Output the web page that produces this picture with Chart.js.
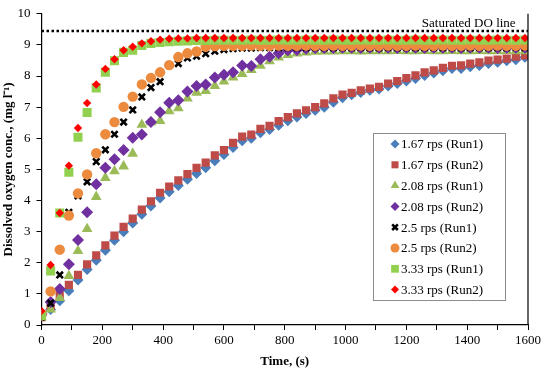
<!DOCTYPE html>
<html>
<head>
<meta charset="utf-8">
<script src="https://cdn.jsdelivr.net/npm/chart.js@4.4.1/dist/chart.umd.min.js"></script>
<style>
  html, body { margin: 0; padding: 0; background: #fff; }
</style>
</head>
<body>
<canvas id="doChart" width="546" height="370"></canvas>
<script>
// sampling times, s
const times = [0, 30, 60, 90, 120, 150, 180, 210, 240, 270,
  300, 330, 360, 390, 420, 450, 480, 510, 540, 570,
  600, 630, 660, 690, 720, 750, 780, 810, 840, 870,
  900, 930, 960, 990, 1020, 1050, 1080, 1110, 1140, 1170,
  1200, 1230, 1260, 1290, 1320, 1350, 1380, 1410, 1440, 1470,
  1500, 1530, 1560, 1590];

// dissolved oxygen, mg/l
const rps167Run1 = [0.30, 0.50, 0.78, 1.10, 1.45, 1.78, 2.08, 2.40, 2.72, 3.00,
  3.28, 3.56, 3.82, 4.08, 4.28, 4.48, 4.68, 4.87, 5.05, 5.28,
  5.48, 5.70, 5.92, 6.00, 6.18, 6.28, 6.42, 6.56, 6.68, 6.80,
  6.90, 7.00, 7.16, 7.30, 7.40, 7.47, 7.54, 7.58, 7.68, 7.76,
  7.84, 7.92, 8.02, 8.10, 8.17, 8.24, 8.24, 8.30, 8.34, 8.40,
  8.44, 8.49, 8.52, 8.60];
const rps167Run2 = [0.25, 0.55, 0.95, 1.29, 1.61, 1.95, 2.24, 2.56, 2.87, 3.15,
  3.42, 3.71, 3.97, 4.25, 4.45, 4.65, 4.85, 5.05, 5.22, 5.45,
  5.62, 5.85, 6.05, 6.12, 6.30, 6.40, 6.55, 6.68, 6.80, 6.90,
  7.00, 7.12, 7.28, 7.40, 7.46, 7.54, 7.60, 7.65, 7.76, 7.84,
  7.93, 8.02, 8.12, 8.18, 8.26, 8.33, 8.34, 8.40, 8.44, 8.50,
  8.53, 8.56, 8.62, 8.66];
const rps208Run1 = [0.25, 0.50, 0.87, 1.58, 2.38, 3.09, 4.12, 4.73, 4.94, 5.10,
  5.51, 6.44, 6.52, 6.56, 6.87, 6.97, 7.28, 7.47, 7.52, 7.68,
  7.83, 7.96, 8.07, 8.20, 8.33, 8.48, 8.60, 8.68, 8.73, 8.76,
  8.78, 8.79, 8.79, 8.80, 8.80, 8.79, 8.80, 8.80, 8.80, 8.81,
  8.80, 8.80, 8.81, 8.80, 8.80, 8.81, 8.80, 8.80, 8.81, 8.80,
  8.80, 8.81, 8.80, 8.80];
const rps208Run2 = [0.35, 0.74, 1.16, 1.95, 2.73, 3.62, 4.52, 5.05, 5.33, 5.62,
  6.02, 6.12, 6.52, 6.84, 7.14, 7.22, 7.50, 7.68, 7.73, 7.95,
  8.04, 8.12, 8.34, 8.32, 8.54, 8.62, 8.73, 8.83, 8.84, 8.88,
  8.90, 8.90, 8.90, 8.91, 8.91, 8.90, 8.91, 8.91, 8.91, 8.90,
  8.91, 8.91, 8.90, 8.91, 8.91, 8.91, 8.90, 8.91, 8.91, 8.91,
  8.90, 8.91, 8.91, 8.91];
const rps25Run1 = [0.25, 0.70, 1.61, 3.62, 4.15, 4.60, 5.25, 5.63, 6.13, 6.52,
  6.91, 7.33, 7.63, 7.82, 8.35, 8.40, 8.58, 8.64, 8.72, 8.80,
  8.85, 8.88, 8.90, 8.90, 8.91, 8.91, 8.91, 8.92, 8.91, 8.91,
  8.92, 8.91, 8.91, 8.92, 8.91, 8.92, 8.91, 8.91, 8.92, 8.91,
  8.92, 8.91, 8.91, 8.92, 8.91, 8.92, 8.91, 8.91, 8.92, 8.91,
  8.92, 8.91, 8.92, 8.91];
const rps25Run2 = [0.35, 1.08, 2.42, 3.52, 4.23, 4.84, 5.52, 6.13, 6.52, 7.01,
  7.34, 7.73, 7.94, 8.12, 8.35, 8.61, 8.73, 8.79, 8.94, 8.96,
  8.97, 8.97, 8.97, 8.98, 8.97, 8.97, 8.98, 8.97, 8.97, 8.98,
  8.97, 8.97, 8.98, 8.97, 8.97, 8.98, 8.97, 8.97, 8.98, 8.97,
  8.97, 8.98, 8.97, 8.97, 8.98, 8.97, 8.97, 8.98, 8.97, 8.97,
  8.98, 8.97, 8.97, 8.98];
const rps333Run1 = [0.30, 1.74, 3.60, 4.91, 6.03, 6.83, 7.62, 8.12, 8.49, 8.76,
  8.83, 8.98, 9.05, 9.08, 9.10, 9.12, 9.13, 9.14, 9.14, 9.15,
  9.15, 9.15, 9.15, 9.16, 9.15, 9.15, 9.16, 9.15, 9.15, 9.16,
  9.15, 9.15, 9.16, 9.15, 9.15, 9.16, 9.15, 9.15, 9.16, 9.15,
  9.15, 9.16, 9.15, 9.15, 9.16, 9.15, 9.15, 9.16, 9.15, 9.15,
  9.16, 9.15, 9.15, 9.16];
const rps333Run2 = [0.45, 1.93, 3.60, 5.12, 6.33, 7.13, 7.73, 8.23, 8.54, 8.83,
  8.94, 9.05, 9.12, 9.17, 9.20, 9.21, 9.21, 9.22, 9.22, 9.22,
  9.22, 9.22, 9.22, 9.22, 9.22, 9.22, 9.22, 9.22, 9.22, 9.22,
  9.22, 9.22, 9.22, 9.22, 9.22, 9.22, 9.22, 9.22, 9.22, 9.22,
  9.22, 9.22, 9.22, 9.22, 9.22, 9.22, 9.22, 9.22, 9.22, 9.22,
  9.22, 9.22, 9.22, 9.22];

const saturatedDO = 9.45;
const seriesNames = ["1.67 rps (Run1)", "1.67 rps (Run2)", "2.08 rps (Run1)", "2.08 rps (Run2)",
  "2.5 rps (Run1)", "2.5 rps (Run2)", "3.33 rps (Run1)", "3.33 rps (Run2)"];
const seriesValues = [rps167Run1, rps167Run2, rps208Run1, rps208Run2,
  rps25Run1, rps25Run2, rps333Run1, rps333Run2];

// marker look, Excel-ish
const markers = [
  { color: "#4A7EBB", pointStyle: "rectRot", radius: 5.5, legendRadius: 4.5 },
  { color: "#BE4B48", pointStyle: "rect", radius: 5.8, legendRadius: 5 },
  { color: "#9BBB59", pointStyle: "triangle", radius: 6.2, legendRadius: 5 },
  { color: "#7030A0", pointStyle: "rectRot", radius: 6, legendRadius: 4.5 },
  { color: "#000000", pointStyle: "crossRot", radius: 4.5, legendRadius: 4, lineWidth: 2.6 },
  { color: "#EC8A3E", pointStyle: "circle", radius: 5.2, legendRadius: 4.5 },
  { color: "#92D050", pointStyle: "rect", radius: 6.4, legendRadius: 5.5 },
  { color: "#FF0000", pointStyle: "rectRot", radius: 4.2, legendRadius: 4 }
];

const serif = "'Liberation Serif', 'Times New Roman', serif";
Chart.defaults.font.family = serif;
Chart.defaults.color = "#000";

const datasets = seriesValues.map((vals, i) => ({
  label: seriesNames[i],
  data: vals.map((v, k) => ({ x: times[k], y: v })),
  showLine: false,
  pointStyle: markers[i].pointStyle,
  pointRadius: markers[i].radius,
  pointBackgroundColor: markers[i].color,
  pointBorderColor: markers[i].color,
  pointBorderWidth: markers[i].lineWidth || 0,
  order: -i // later series on top, like Excel
}));

datasets.push({
  label: "Saturated DO line",
  data: [{ x: 0, y: saturatedDO }, { x: 1600, y: saturatedDO }],
  showLine: true,
  borderColor: "#000",
  borderWidth: 2.5,
  borderDash: [2.5, 2.5],
  pointRadius: 0,
  order: 5
});

// right frame + legend box + label
const extras = {
  id: "extras",
  afterDraw(chart) {
    const { ctx, chartArea: a, scales } = chart;
    ctx.save();
    ctx.strokeStyle = "#000";
    ctx.lineWidth = 1.2;
    ctx.beginPath();
    ctx.moveTo(a.right, a.top);
    ctx.lineTo(a.right, a.bottom);
    ctx.stroke();

    ctx.font = "13px " + serif;
    ctx.fillStyle = "#000";
    ctx.textAlign = "center";
    ctx.textBaseline = "alphabetic";
    ctx.fillText("Saturated DO line", scales.x.getPixelForValue(1405), scales.y.getPixelForValue(saturatedDO) - 4);

    // legend
    const bx = 373, by = 133, bw = 132, bh = 167;
    ctx.strokeStyle = "#8c8c8c";
    ctx.lineWidth = 1;
    ctx.fillStyle = "#fff";
    ctx.fillRect(bx, by, bw, bh);
    ctx.strokeRect(bx + 0.5, by + 0.5, bw, bh);
    ctx.textAlign = "left";
    ctx.textBaseline = "middle";
    seriesNames.forEach((name, i) => {
      const y = by + 11 + i * 20.8;
      const m = markers[i];
      ctx.fillStyle = m.color;
      ctx.strokeStyle = m.color;
      ctx.lineWidth = m.lineWidth || 0;
      Chart.helpers.drawPoint(ctx, { pointStyle: m.pointStyle, radius: m.legendRadius, rotation: 0, borderWidth: m.lineWidth || 0 }, 395, y);
      ctx.fillStyle = "#000";
      ctx.fillText(name, 401, y + 1);
    });
    ctx.restore();
  }
};

new Chart(document.getElementById("doChart"), {
  type: "scatter",
  data: { datasets },
  options: {
    responsive: false,
    animation: false,
    layout: { padding: { top: 7, right: 18, bottom: 0, left: 0 } },
    plugins: { legend: { display: false }, tooltip: { enabled: false } },
    scales: {
      x: {
        type: "linear",
        min: 0,
        max: 1600,
        afterFit: s => { s.height = 45; },
        grid: { drawOnChartArea: false, tickLength: 5, color: "#000" },
        border: { color: "#000", width: 1.2 },
        ticks: {
          stepSize: 100,
          padding: 3,
          maxRotation: 0,
          autoSkip: false,
          font: { size: 13 },
          callback: v => (v % 200 === 0 ? v : "")
        },
        title: {
          display: true,
          text: "Time, (s)",
          font: { size: 13, weight: "bold" },
          padding: { top: 0, bottom: 1 }
        }
      },
      y: {
        min: 0,
        max: 10,
        afterFit: s => { s.width = 41.5; },
        grid: { drawOnChartArea: false, tickLength: 5, color: "#000" },
        border: { color: "#000", width: 1.2 },
        ticks: { stepSize: 1, padding: 6, font: { size: 13 } },
        title: {
          display: true,
          text: "Dissolved oxygen conc., (mg l\u207B\u00B9)",
          font: { size: 13, weight: "bold" },
          padding: { top: 1, bottom: 0 }
        }
      }
    }
  },
  plugins: [extras]
});
</script>
</body>
</html>
